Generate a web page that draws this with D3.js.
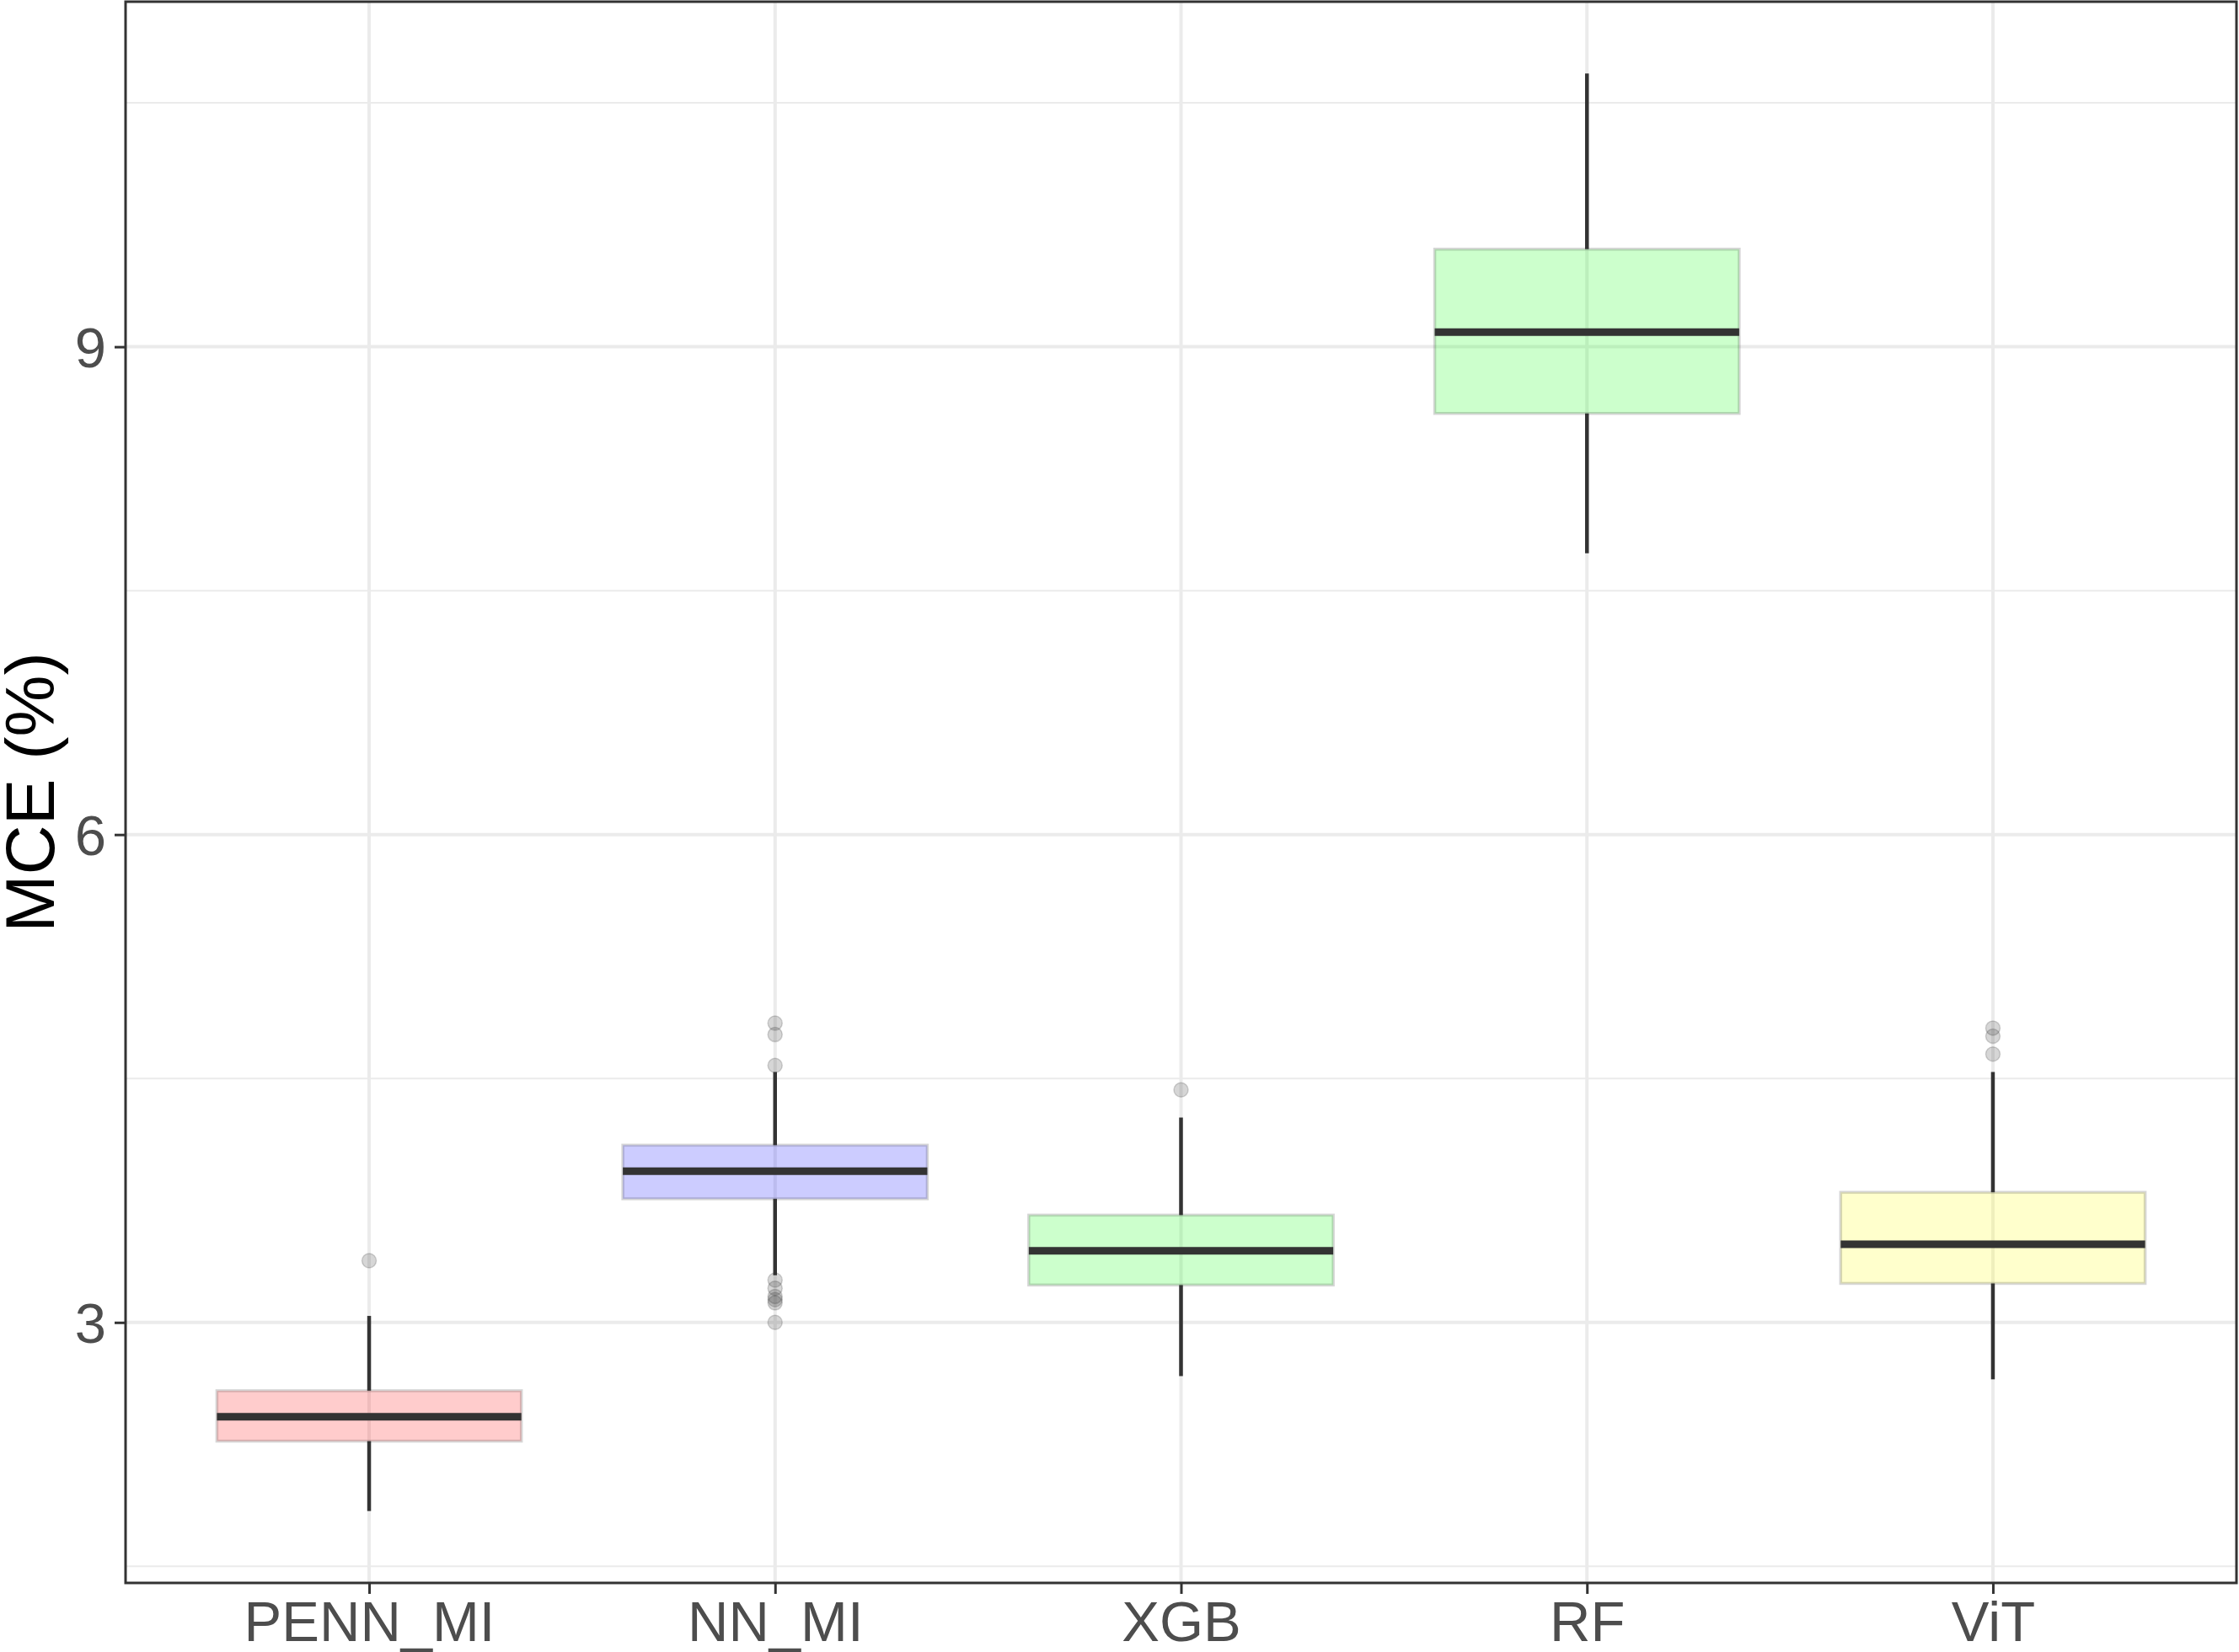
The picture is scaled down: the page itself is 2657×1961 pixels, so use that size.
<!DOCTYPE html>
<html>
<head>
<meta charset="utf-8">
<script src="https://cdn.jsdelivr.net/npm/d3@7"></script>
<style>
  body { margin: 0; background: #fff; }
  svg { display: block; }
  text { font-family: "Liberation Sans", Arial, sans-serif; }
</style>
</head>
<body>
<div id="chart"></div>
<script>
// values (MCE, %)
const methods = ['PENN_MI', 'NN_MI', 'XGB', 'RF', 'ViT'];
const whiskerLow = [1.84, 3.29, 2.67, 7.73, 2.65];
const q1 = [2.27, 3.76, 3.23, 8.59, 3.24];
const medians = [2.42, 3.93, 3.44, 9.09, 3.48];
const q3 = [2.58, 4.09, 3.66, 9.60, 3.80];
const whiskerHigh = [3.04, 4.54, 4.26, 10.68, 4.54];
const outliers = [
  [3.38],
  [4.84, 4.77, 4.58, 3.26, 3.21, 3.16, 3.14, 3.12, 3.00],
  [4.43],
  [],
  [4.81, 4.76, 4.65]
];
const yTicks = [3, 6, 9];
const yMinor = [1.5, 4.5, 7.5, 10.5];
const fillColors = ['#ff0000', '#0000ff', '#00ff00', '#00ff00', '#ffff00'];

const width = 2657;
const height = 1961;
const margin = { top: 2, right: 3, bottom: 82, left: 149 };

const svg = d3.select('#chart').append('svg')
  .attr('width', width)
  .attr('height', height);

const x = d3.scalePoint()
  .domain(methods)
  .range([margin.left, width - margin.right])
  .padding(0.6);

const lo = d3.min(whiskerLow.concat(outliers.flat()));
const hi = d3.max(whiskerHigh.concat(outliers.flat()));
const pad = (hi - lo) * 0.05;
const y = d3.scaleLinear()
  .domain([lo - pad, hi + pad])
  .range([height - margin.bottom, margin.top]);

const boxW = x.step() * 0.75;

// grid
const grid = svg.append('g');
grid.selectAll('.minor')
  .data(yMinor)
  .join('line')
  .attr('x1', margin.left).attr('x2', width - margin.right)
  .attr('y1', d => y(d)).attr('y2', d => y(d))
  .attr('stroke', '#ebebeb').attr('stroke-width', 2);
grid.selectAll('.major')
  .data(yTicks)
  .join('line')
  .attr('x1', margin.left).attr('x2', width - margin.right)
  .attr('y1', d => y(d)).attr('y2', d => y(d))
  .attr('stroke', '#ebebeb').attr('stroke-width', 4);
grid.selectAll('.vmajor')
  .data(methods)
  .join('line')
  .attr('x1', d => x(d)).attr('x2', d => x(d))
  .attr('y1', margin.top).attr('y2', height - margin.bottom)
  .attr('stroke', '#ebebeb').attr('stroke-width', 4);

// boxes
const boxes = svg.append('g')
  .selectAll('g')
  .data(methods)
  .join('g');

boxes.append('line')
  .attr('x1', d => x(d)).attr('x2', d => x(d))
  .attr('y1', (d, i) => y(q3[i])).attr('y2', (d, i) => y(whiskerHigh[i]))
  .attr('stroke', '#333').attr('stroke-width', 4.5);
boxes.append('line')
  .attr('x1', d => x(d)).attr('x2', d => x(d))
  .attr('y1', (d, i) => y(q1[i])).attr('y2', (d, i) => y(whiskerLow[i]))
  .attr('stroke', '#333').attr('stroke-width', 4.5);

boxes.append('rect')
  .attr('x', d => x(d) - boxW / 2)
  .attr('width', boxW)
  .attr('y', (d, i) => y(q3[i]))
  .attr('height', (d, i) => y(q1[i]) - y(q3[i]))
  .attr('fill', (d, i) => fillColors[i])
  .attr('fill-opacity', 0.2)
  .attr('stroke', '#333')
  .attr('stroke-opacity', 0.2)
  .attr('stroke-width', 3.5);

boxes.append('line')
  .attr('x1', d => x(d) - boxW / 2).attr('x2', d => x(d) + boxW / 2)
  .attr('y1', (d, i) => y(medians[i])).attr('y2', (d, i) => y(medians[i]))
  .attr('stroke', '#333').attr('stroke-width', 9);

boxes.selectAll('circle')
  .data((d, i) => outliers[i].map(v => ({ m: d, v })))
  .join('circle')
  .attr('cx', d => x(d.m))
  .attr('cy', d => y(d.v))
  .attr('r', 8.5)
  .attr('fill', '#333')
  .attr('fill-opacity', 0.2)
  .attr('stroke', '#333')
  .attr('stroke-opacity', 0.2)
  .attr('stroke-width', 1.5);

// panel border
svg.append('rect')
  .attr('x', margin.left)
  .attr('y', margin.top)
  .attr('width', width - margin.right - margin.left)
  .attr('height', height - margin.bottom - margin.top)
  .attr('fill', 'none')
  .attr('stroke', '#333')
  .attr('stroke-width', 3);

// axes
const yAxis = svg.append('g')
  .attr('transform', `translate(${margin.left},0)`)
  .call(d3.axisLeft(y).tickValues(yTicks).tickSize(13).tickPadding(10));
const xAxis = svg.append('g')
  .attr('transform', `translate(0,${height - margin.bottom})`)
  .call(d3.axisBottom(x).tickSize(13).tickPadding(8));

[yAxis, xAxis].forEach(a => {
  a.select('.domain').remove();
  a.selectAll('.tick line').attr('stroke', '#333').attr('stroke-width', 3);
  a.selectAll('.tick text')
    .attr('fill', '#4d4d4d')
    .style('font-size', '67px')
    .style('font-family', '"Liberation Sans", Arial, sans-serif');
});
yAxis.selectAll('.tick text').attr('dy', '0.36em');
xAxis.selectAll('.tick text').attr('dy', '0.71em');

svg.append('text')
  .attr('transform', `translate(64,${(margin.top + height - margin.bottom) / 2}) rotate(-90)`)
  .attr('text-anchor', 'middle')
  .attr('fill', '#000')
  .style('font-size', '82px')
  .text('MCE (%)');
</script>
</body>
</html>
